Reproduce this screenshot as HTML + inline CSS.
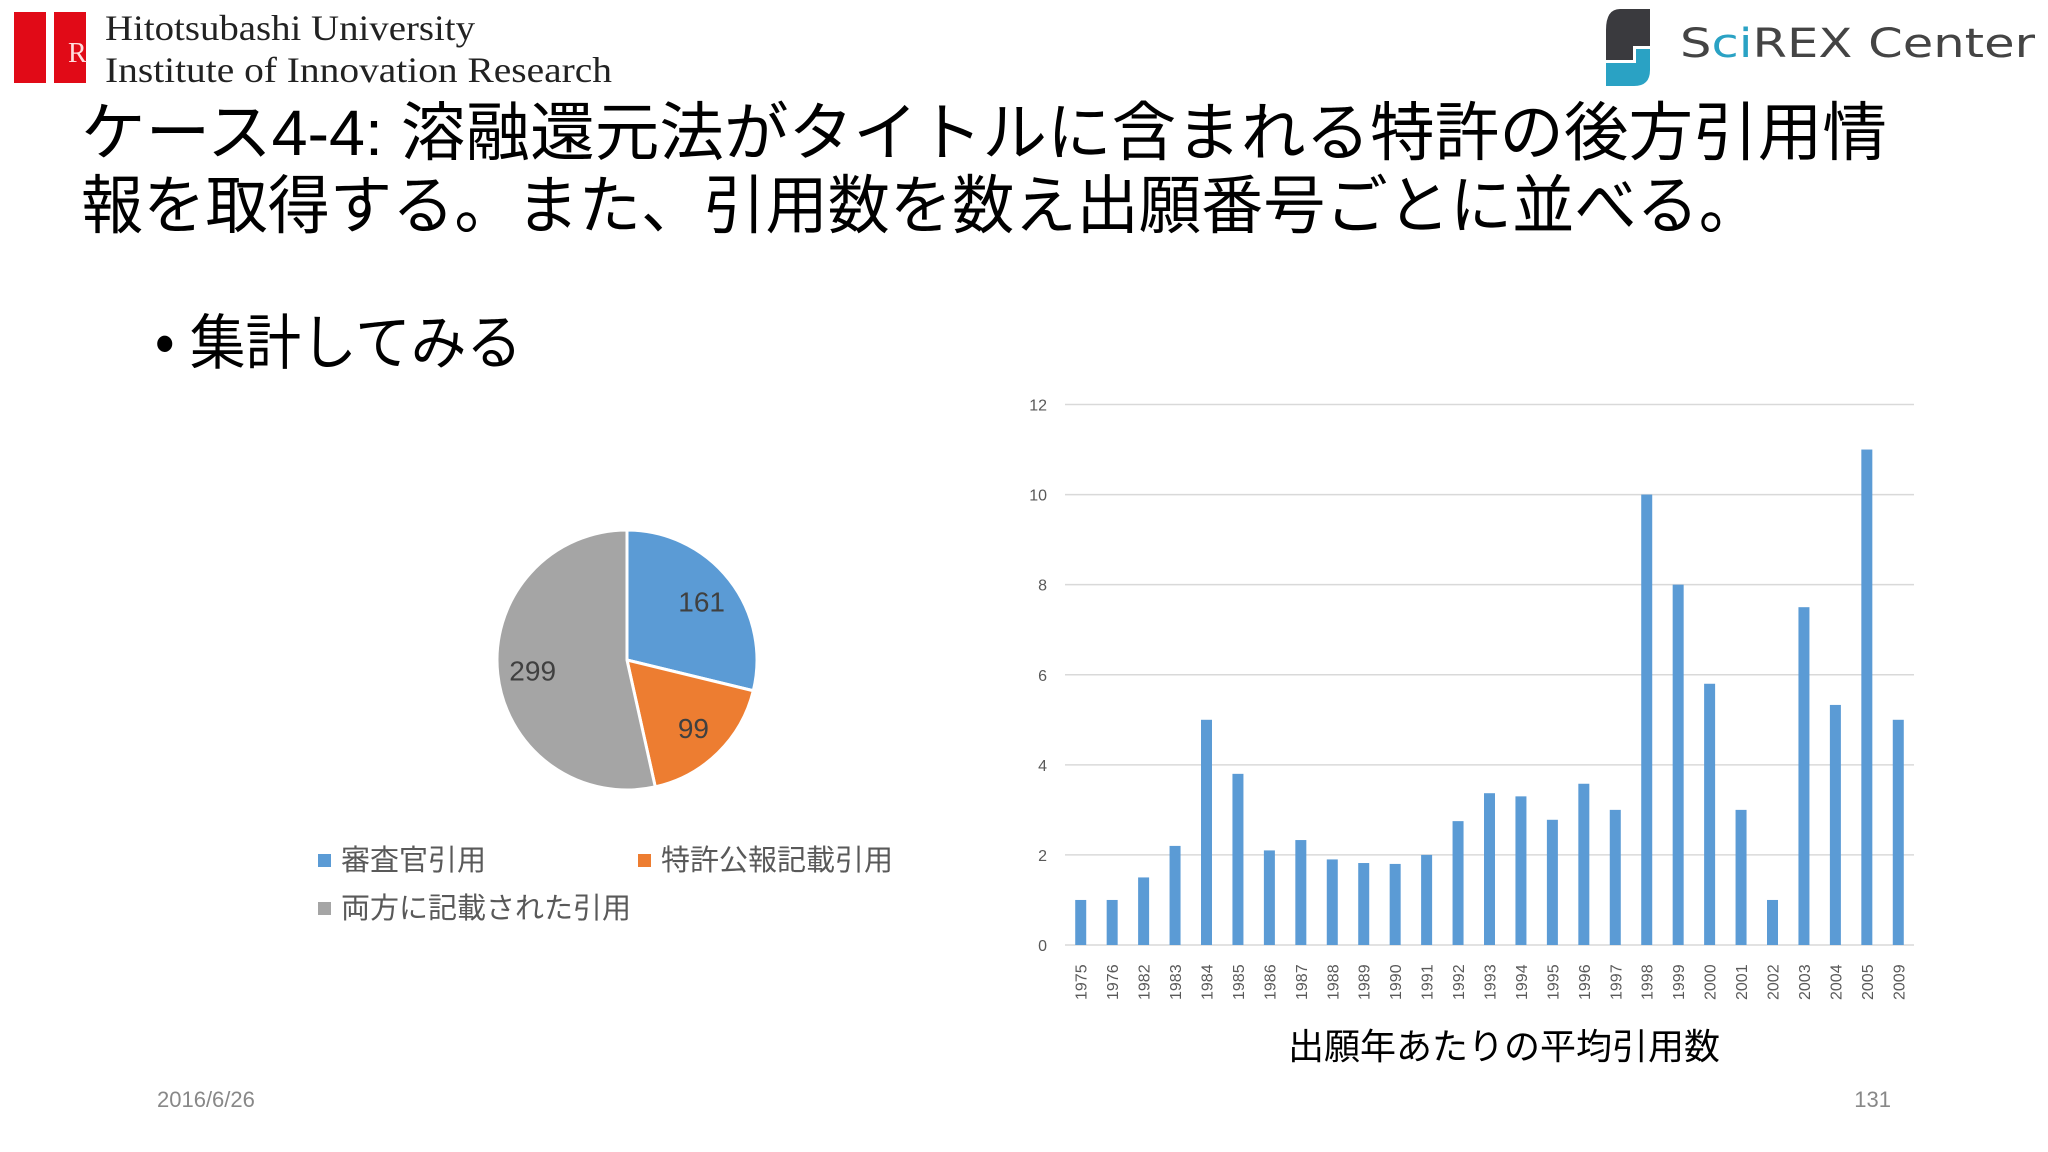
<!DOCTYPE html>
<html><head><meta charset="utf-8"><style>
html,body{margin:0;padding:0;background:#fff;}
body{width:2048px;height:1152px;position:relative;overflow:hidden;}
svg{position:absolute;left:0;top:0;}
</style></head><body>
<svg width="2048" height="1152" viewBox="0 0 2048 1152">
  <g>
    <rect x="14" y="12" width="32" height="71" fill="#e10a17"/>
    <rect x="54" y="12" width="32" height="71" fill="#e10a17"/>
    <text x="68" y="62" font-family="Liberation Serif, serif" font-size="28" fill="#fdd">R</text>
    <text x="105" y="40" font-family="Liberation Serif, serif" font-size="36" fill="#222" textLength="370" lengthAdjust="spacingAndGlyphs">Hitotsubashi University</text>
    <text x="105" y="82" font-family="Liberation Serif, serif" font-size="36" fill="#222" textLength="507" lengthAdjust="spacingAndGlyphs">Institute of Innovation Research</text>
  </g>
  <g>
    <path d="M1620 9 H1650 V46 H1633 V60 H1606 V30 Q1606 9 1620 9Z" fill="#3a3a3e"/>
    <path d="M1636 49 H1650 V70 Q1650 86 1634 86 H1606 V63 H1636Z" fill="#2aa2c4"/>
    <text x="1680" y="57" font-family="DejaVu Sans, sans-serif" font-size="40" fill="#444" textLength="355" lengthAdjust="spacingAndGlyphs">S<tspan fill="#2aa2c4">ci</tspan>REX Center</text>
  </g>
  <g font-family="Liberation Sans, 'Noto Sans CJK JP', sans-serif" font-size="64" fill="#000">
    <text x="81" y="155" textLength="1806" lengthAdjust="spacingAndGlyphs">ケース4-4: 溶融還元法がタイトルに含まれる特許の後方引用情</text>
    <text x="81" y="228" textLength="1680" lengthAdjust="spacingAndGlyphs">報を取得する。また、引用数を数え出願番号ごとに並べる。</text>
  </g>
  <text x="155" y="364" font-family="Liberation Sans, 'Noto Sans CJK JP', sans-serif" font-size="60" fill="#000" textLength="367" lengthAdjust="spacingAndGlyphs">• 集計してみる</text>
  <g id="pie"></g>
  <g id="bar"></g>
  <text x="157" y="1107" font-family="Liberation Sans, sans-serif" font-size="22" fill="#888">2016/6/26</text>
  <text x="1891" y="1107" text-anchor="end" font-family="Liberation Sans, sans-serif" font-size="22" fill="#888">131</text>
</svg>
<script>
const pieLabels = ['審査官引用','特許公報記載引用','両方に記載された引用'];
const pieValues = [161, 99, 299];
const pieColors = ['#5b9bd5','#ed7d31','#a5a5a5'];

const years = ['1975','1976','1982','1983','1984','1985','1986','1987','1988','1989','1990','1991','1992','1993','1994','1995','1996','1997','1998','1999','2000','2001','2002','2003','2004','2005','2009'];
const avgCites = [1,1,1.5,2.2,5,3.8,2.1,2.33,1.9,1.82,1.8,2,2.75,3.37,3.3,2.78,3.58,3,10,8,5.8,3,1,7.5,5.33,11,5];
const yTicks = [0,2,4,6,8,10,12];

const NS='http://www.w3.org/2000/svg';
function mk(tag, attrs, parent){const e=document.createElementNS(NS,tag);for(const k in attrs)e.setAttribute(k,attrs[k]);parent.appendChild(e);return e;}

// Pie
const pie=document.getElementById('pie');
const cx=627, cy=660, r=130;
const total=pieValues.reduce((a,b)=>a+b,0);
let ang=-Math.PI/2;
pieValues.forEach((v,i)=>{
  const a2=ang+v/total*2*Math.PI;
  const x1=cx+r*Math.cos(ang), y1=cy+r*Math.sin(ang);
  const x2=cx+r*Math.cos(a2), y2=cy+r*Math.sin(a2);
  const large=(a2-ang)>Math.PI?1:0;
  const p=mk('path',{d:`M${cx},${cy} L${x1},${y1} A${r},${r} 0 ${large} 1 ${x2},${y2} Z`,fill:pieColors[i],stroke:'#fff','stroke-width':3},pie);
  
  
  const mid=(ang+a2)/2;
  const t=mk('text',{x:cx+r*0.73*Math.cos(mid),y:cy+r*0.73*Math.sin(mid)+10,'text-anchor':'middle','font-family':'Liberation Sans, sans-serif','font-size':28,fill:'#404040'},pie);
  t.textContent=v;
  
  
  ang=a2;
});
const legPos=[[318,860],[638,860],[318,908]];
pieLabels.forEach((l,i)=>{
  const g=mk('g',{},pie);
  
  
  mk('rect',{x:legPos[i][0],y:legPos[i][1]-6,width:13,height:13,fill:pieColors[i]},g);
  const t=mk('text',{x:legPos[i][0]+23,y:legPos[i][1]+10,'font-family':"Liberation Sans, 'Noto Sans CJK JP', sans-serif",'font-size':29,fill:'#595959'},g);
  t.textContent=l;
});

// Bar chart
const bar=document.getElementById('bar');
const x0=1065, x1=1914, yBase=945, yTop=404.5, yMax=12;
const ys=v=>yBase-(v/yMax)*(yBase-yTop);
const step=(x1-x0)/years.length;
const xs=i=>x0+step*(i+0.5);
yTicks.forEach(t=>{
  const l=mk('line',{x1:x0,x2:x1,y1:ys(t),y2:ys(t),stroke:'#d9d9d9','stroke-width':1.5},bar);
  
  
  const tx=mk('text',{x:1047,y:ys(t)+6,'text-anchor':'end','font-family':'Liberation Sans, sans-serif','font-size':16,fill:'#595959'},bar);
  tx.textContent=t;
  
  
});
avgCites.forEach((v,i)=>{
  const rc=mk('rect',{x:xs(i)-5.5,y:ys(v),width:11,height:yBase-ys(v),fill:'#5b9bd5'},bar);
  
  
  const tx=mk('text',{x:0,y:0,transform:`translate(${xs(i)+6},1000) rotate(-90)`,'font-family':'Liberation Sans, sans-serif','font-size':16,fill:'#595959'},bar);
  tx.textContent=years[i];
  
  
});
const at=mk('text',{x:1504,y:1059,'text-anchor':'middle','font-family':"Liberation Sans, 'Noto Sans CJK JP', sans-serif",'font-size':36,fill:'#000'},bar);
at.textContent='出願年あたりの平均引用数';


</script>
</body></html>
